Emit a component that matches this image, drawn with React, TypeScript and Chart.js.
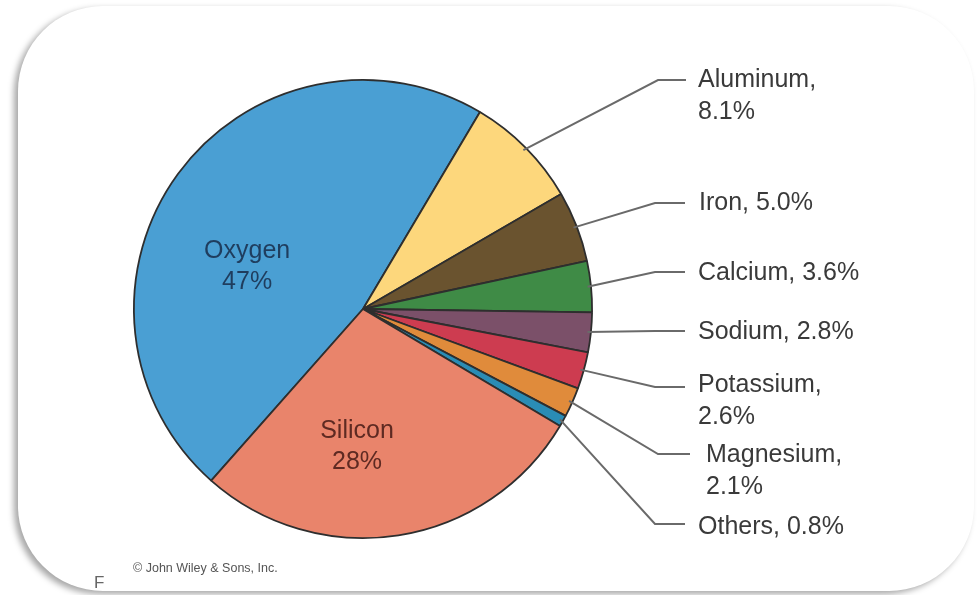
import React, { useEffect, useRef } from 'react';
import { Chart, registerables } from 'chart.js';

Chart.register(...registerables);

// ---- data ----
const elements = ['Oxygen', 'Aluminum', 'Iron', 'Calcium', 'Sodium', 'Potassium', 'Magnesium', 'Others', 'Silicon'];
const percents = [47, 8.1, 5.0, 3.6, 2.8, 2.6, 2.1, 0.8, 28];
const sliceColors = ['#4a9fd3', '#fdd77c', '#6a532f', '#3f8b46', '#7b5069', '#cd3c50', '#e08b3b', '#2a8cb5', '#e9846b'];

// inside labels (name, value) for big slices
const insideNames = ['Oxygen', 'Silicon'];
// callouts: which labels wrap after comma
const wrapped = ['Aluminum', 'Potassium', 'Magnesium'];

// ---- layout (positions only) ----
const insideLayout: Record<string, { ang: number; rf: number; color: string }> = {
  Oxygen: { ang: 290.5, rf: 0.54, color: '#1f3d5e' },
  Silicon: { ang: 182.5, rf: 0.6, color: '#5e2a22' },
};
const calloutLayout: Record<string, { elbowX: number; y: number; endX: number; textX: number; textY: number }> = {
  Aluminum: { elbowX: 658, y: 80, endX: 686, textX: 698, textY: 80 },
  Iron: { elbowX: 655, y: 203, endX: 685, textX: 699, textY: 203 },
  Calcium: { elbowX: 655, y: 272, endX: 685, textX: 698, textY: 273 },
  Sodium: { elbowX: 655, y: 331, endX: 685, textX: 698, textY: 332 },
  Potassium: { elbowX: 655, y: 387, endX: 685, textX: 698, textY: 385 },
  Magnesium: { elbowX: 658, y: 454, endX: 690, textX: 706, textY: 455 },
  Others: { elbowX: 655, y: 524, endX: 685, textX: 698, textY: 527 },
};

const fmt = (v: number) => (Number.isInteger(v) && v >= 10 ? `${v}%` : `${v.toFixed(1)}%`);
const FONT = '25px "Liberation Sans", Arial, sans-serif';

const labelPlugin = {
  id: 'pieLabels',
  afterDatasetsDraw(chart: any) {
    const ctx = chart.ctx;
    const meta = chart.getDatasetMeta(0);
    ctx.save();
    meta.data.forEach((arc: any, i: number) => {
      const name = elements[i];
      const { x, y, startAngle, endAngle, outerRadius } = arc.getProps(['x', 'y', 'startAngle', 'endAngle', 'outerRadius'], true);
      const mid = (startAngle + endAngle) / 2;
      if (insideNames.includes(name)) {
        const L = insideLayout[name];
        const a = (L.ang - 90) * Math.PI / 180;
        const cx = x + Math.cos(a) * outerRadius * L.rf;
        const cy = y + Math.sin(a) * outerRadius * L.rf;
        ctx.fillStyle = L.color;
        ctx.font = FONT;
        ctx.textAlign = 'center';
        ctx.textBaseline = 'middle';
        ctx.fillText(name, cx, cy - 15);
        ctx.fillText(fmt(percents[i]), cx, cy + 16);
        return;
      }
      const L = calloutLayout[name];
      if (!L) return;
      const sx = x + Math.cos(mid) * outerRadius * 0.985;
      const sy = y + Math.sin(mid) * outerRadius * 0.985;
      ctx.strokeStyle = '#6a6a6a';
      ctx.lineWidth = 2;
      ctx.beginPath();
      ctx.moveTo(sx, sy);
      ctx.lineTo(L.elbowX, L.y);
      ctx.lineTo(L.endX, L.y);
      ctx.stroke();
      ctx.fillStyle = '#3a3a3a';
      ctx.font = FONT;
      ctx.textAlign = 'left';
      ctx.textBaseline = 'middle';
      if (wrapped.includes(name)) {
        ctx.fillText(`${name},`, L.textX, L.textY);
        ctx.fillText(fmt(percents[i]), L.textX, L.textY + 32);
      } else {
        ctx.fillText(`${name}, ${fmt(percents[i])}`, L.textX, L.textY);
      }
    });
    // credit
    ctx.fillStyle = '#555';
    ctx.font = '12.5px "Liberation Sans", Arial, sans-serif';
    ctx.textAlign = 'left';
    ctx.textBaseline = 'middle';
    ctx.fillText('\u00A9 John Wiley & Sons, Inc.', 133, 569);
    ctx.fillStyle = '#666';
    ctx.font = '17px "Liberation Sans", Arial, sans-serif';
    ctx.fillText('F', 94, 583);
    ctx.restore();
  },
};

export default function App() {
  const ref = useRef<HTMLCanvasElement | null>(null);
  useEffect(() => {
    if (!ref.current) return;
    const chart = new Chart(ref.current, {
      type: 'pie',
      data: {
        labels: elements,
        datasets: [{
          data: percents,
          backgroundColor: sliceColors,
          borderColor: '#2e2e2e',
          borderWidth: 1.8,
        }],
      },
      options: {
        responsive: false,
        animation: false,
        rotation: 221.5,
        layout: { padding: { left: 133, right: 384, top: 79, bottom: 56 } },
        plugins: { legend: { display: false }, tooltip: { enabled: false } },
      },
      plugins: [labelPlugin],
    });
    return () => chart.destroy();
  }, []);
  return (
    <div style={{ position: 'fixed', left: 0, top: 0, width: 977, height: 595, background: '#fff', overflow: 'hidden' }}>
      <div style={{
        position: 'absolute', left: 18, top: 6, width: 956, height: 585,
        borderRadius: 85, background: '#fff',
        boxShadow: '-4px 3px 6px rgba(0,0,0,0.35)',
      }} />
      <canvas ref={ref} width={977} height={595} style={{ position: 'absolute', left: 0, top: 0 }} />
    </div>
  );
}
